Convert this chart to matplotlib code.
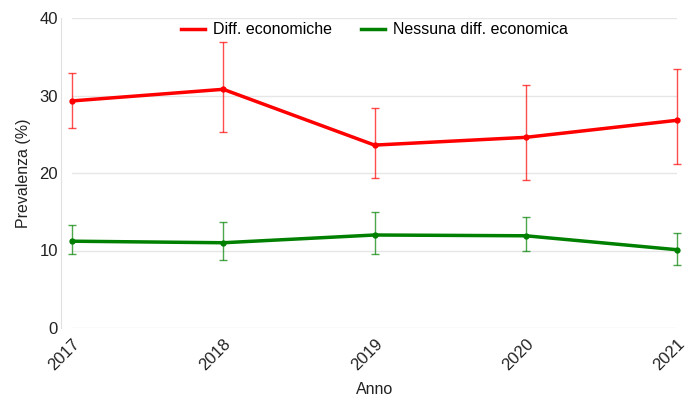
import matplotlib
matplotlib.use("Agg")
import matplotlib.pyplot as plt
from matplotlib.lines import Line2D

plt.rcParams['font.family'] = ['Liberation Sans', 'DejaVu Sans']

# ── data ──
anni = [2017, 2018, 2019, 2020, 2021]

diff_val = [29.3, 30.8, 23.6, 24.6, 26.8]
diff_lo  = [25.8, 25.3, 19.4, 19.1, 21.2]
diff_hi  = [32.9, 36.9, 28.4, 31.4, 33.4]

nessuna_val = [11.2, 11.0, 12.0, 11.9, 10.1]
nessuna_lo  = [9.5, 8.8, 9.5, 9.9, 8.1]
nessuna_hi  = [13.3, 13.7, 15.0, 14.3, 12.3]

yticks = [0, 10, 20, 30, 40]

# ── figure ──
fig = plt.figure(figsize=(6.91, 4.03), dpi=100)
ax = fig.add_axes([72/691, 1 - 328/403, (677 - 72)/691, (328 - 18)/403])

handles = []
def serie(vals, lo, hi, color, label):
    err = [[v - l for v, l in zip(vals, lo)], [h - v for v, h in zip(vals, hi)]]
    eb = ax.errorbar(anni, vals, yerr=err, fmt='none', ecolor=color, elinewidth=1,
                     capsize=3, capthick=1, alpha=0.7, zorder=2)
    for art in eb.lines[1] + eb.lines[2]:
        art.set_clip_on(False)
    ax.plot(anni, vals, color=color, lw=2.5, marker='o', ms=3.5, zorder=3, clip_on=False)
    handles.append(Line2D([], [], color=color, lw=2.5, label=label))

serie(diff_val, diff_lo, diff_hi, '#ff0000', 'Diff. economiche')
serie(nessuna_val, nessuna_lo, nessuna_hi, '#008000', 'Nessuna diff. economica')

ax.set_xlim(2017, 2021)
ax.set_ylim(0, 40)
ax.set_xticks(anni)
ax.set_xticklabels([str(a) for a in anni], rotation=45, ha='right', rotation_mode='anchor')
ax.set_yticks(yticks)
ax.tick_params(length=0, labelsize=12, colors='#222222')
ax.tick_params(axis='x', pad=6)
ax.tick_params(axis='y', pad=2)
ax.grid(axis='y', color='#e6e6e6', lw=1)
ax.set_axisbelow(True)

for s in ['top', 'right', 'bottom']:
    ax.spines[s].set_visible(False)
ax.spines['left'].set_position(('outward', 8))
ax.spines['left'].set_color('#e0e0e0')
ax.spines['left'].set_bounds(0, 40)

ax.set_xlabel('Anno', fontsize=11.5, color='#222222', labelpad=6)
ax.set_ylabel('Prevalenza (%)', fontsize=11.5, color='#222222', labelpad=6)

ax.legend(handles=handles, loc='center', bbox_to_anchor=(0.5, 1 - 12/310), ncol=2,
          frameon=False, fontsize=11.5, handlelength=1.5, columnspacing=1.8,
          handletextpad=0.5)

fig.savefig('out.png', dpi=100)
